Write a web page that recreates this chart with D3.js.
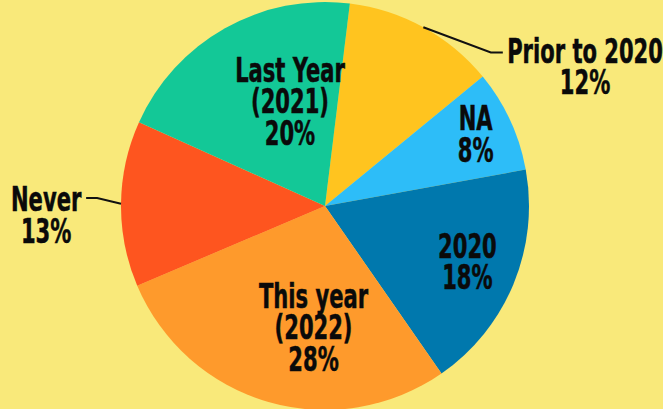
<!DOCTYPE html>
<meta charset="utf-8">
<head>
    <title>Pie</title>
    <style>
        body { margin: 0; background: #f9e97a; }
        svg { display: block; }
        text { font-family: "DejaVu Sans Condensed", "Liberation Sans Narrow", sans-serif; font-weight: bold; fill: #0a0a0a; stroke: #0a0a0a; stroke-width: 0.5px; }
    </style>
</head>
<body>
    <svg width="663" height="409"></svg>
    <script src="https://d3js.org/d3.v7.min.js"></script>
    <script>
        // data
        var names = [["Prior to 2020"], ["NA"], ["2020"], ["This year", "(2022)"], ["Never"], ["Last Year", "(2021)"]];
        var values = [12, 8, 18, 28, 13, 20];
        var colors = ["#ffc41f", "#2dbdf8", "#0078ad", "#fe9a2c", "#fe551f", "#13c897"];

        // label placement: angle shift from slice middle (deg), radius
        var labelSpot = [[33, 295], [-0.7, 167], [-1, 153], [-10.7, 122], [-2.5, 279], [10.8, 110]];
        // leader lines for the outside labels: slice index, elbow angle, elbow radius, horizontal run
        var leaders = [[0, 47.2, 226, 12], [4, 272, 228, -11]];

        var svg = d3.select("svg"),
            width = +svg.attr("width"),
            height = +svg.attr("height");

        var cx = 325, cy = 206, radius = 204;
        var rad = Math.PI / 180;

        var pie = d3.pie().sort(null).startAngle(7 * rad).endAngle(367 * rad);
        var arcs = pie(values);
        var arc = d3.arc().innerRadius(0).outerRadius(radius);

        var g = svg.append("g").attr("transform", "translate(" + cx + "," + cy + ")");

        g.selectAll("path")
            .data(arcs)
            .enter().append("path")
            .attr("d", arc)
            .attr("fill", function (d, i) { return colors[i]; });

        function polar(a, r) { return [Math.sin(a) * r, -Math.cos(a) * r]; }
        function mid(d) { return (d.startAngle + d.endAngle) / 2; }

        leaders.forEach(function (l) {
            var d = arcs[l[0]];
            var p0 = polar(mid(d), radius);
            var p1 = polar(l[1] * rad, l[2]);
            var p2 = [p1[0] + l[3], p1[1]];
            g.append("polyline")
                .attr("points", [p0, p1, p2].map(function (p) { return p.join(","); }).join(" "))
                .attr("fill", "none")
                .attr("stroke", "#111")
                .attr("stroke-width", 2);
        });

        var lineH = 31.5, capH = 23.5, squeeze = 0.71;

        arcs.forEach(function (d, i) {
            var spot = labelSpot[i];
            var p = polar(mid(d) + spot[0] * rad, spot[1]);
            var lines = names[i].concat([values[i] + "%"]);
            var t = g.append("text")
                .attr("text-anchor", "middle")
                .attr("font-size", 33)
                .attr("transform", "translate(" + p[0] + "," + p[1] + ") scale(" + squeeze + ",1)");
            var y0 = -(lines.length - 1) * lineH / 2 + capH / 2;
            lines.forEach(function (s, k) {
                t.append("tspan").attr("x", 0).attr("y", y0 + k * lineH).text(s);
            });
        });
    </script>
</body>
